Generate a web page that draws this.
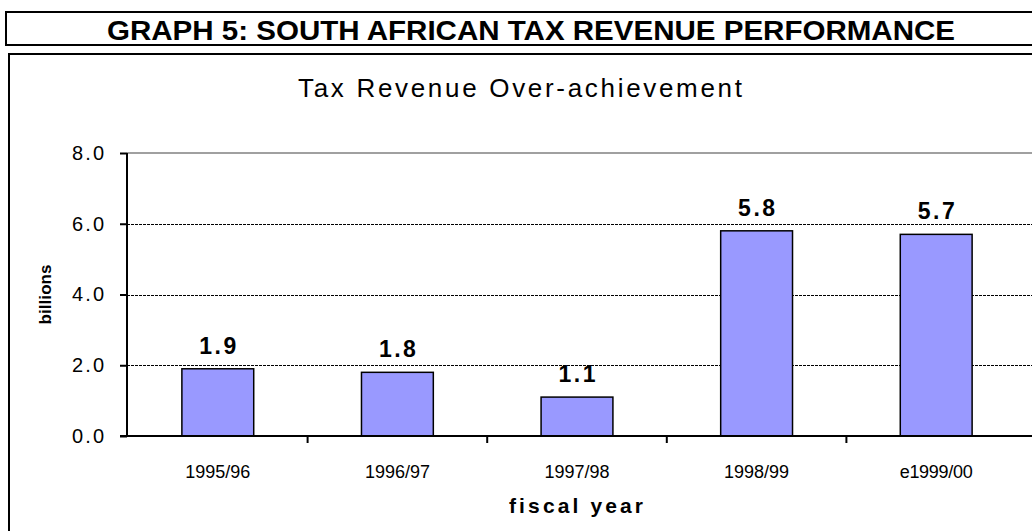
<!DOCTYPE html>
<html>
<head>
<meta charset="utf-8">
<script src="https://cdn.jsdelivr.net/npm/d3@7"></script>
<style>
  body { margin: 0; background: #fff; }
  svg { display: block; font-family: "Liberation Sans", Arial, sans-serif; }
</style>
</head>
<body>
<div id="chart"></div>
<script>
const categories = ["1995/96", "1996/97", "1997/98", "1998/99", "e1999/00"];
const values = [1.9, 1.8, 1.1, 5.8, 5.7];
const yTicks = [0, 2, 4, 6, 8];

const width = 1032,
    height = 531;
const margin = { top: 153, right: 7, bottom: 95, left: 127 };

const svg = d3
    .select("#chart")
    .append("svg")
    .attr("width", width)
    .attr("height", height);

svg.append("rect").attr("width", width).attr("height", height).attr("fill", "#fff");

// header box
svg.append("rect")
    .attr("x", 6)
    .attr("y", 12)
    .attr("width", width + 10)
    .attr("height", 33)
    .attr("fill", "none")
    .attr("stroke", "#000")
    .attr("stroke-width", 2);

svg.append("text")
    .attr("x", 531)
    .attr("y", 40)
    .attr("text-anchor", "middle")
    .attr("textLength", 848)
    .attr("lengthAdjust", "spacingAndGlyphs")
    .style("font-size", "27px")
    .style("font-weight", "bold")
    .text("GRAPH 5: SOUTH AFRICAN TAX REVENUE PERFORMANCE");

// chart box
svg.append("rect")
    .attr("x", 9)
    .attr("y", 54)
    .attr("width", width + 10)
    .attr("height", height)
    .attr("fill", "none")
    .attr("stroke", "#000")
    .attr("stroke-width", 2);

svg.append("text")
    .attr("x", 520)
    .attr("y", 97)
    .attr("text-anchor", "middle")
    .attr("textLength", 444)
    .attr("lengthAdjust", "spacing")
    .style("font-size", "26px")
    .text("Tax Revenue Over-achievement");

const xScale = d3
    .scaleBand()
    .domain(categories)
    .range([margin.left + 1, 1026])
    .paddingInner(0.6)
    .paddingOuter(0.3);

const yScale = d3
    .scaleLinear()
    .domain([0, 8])
    .range([height - margin.bottom, margin.top]);

// top border of plot at 8.0
svg.append("line")
    .attr("x1", margin.left)
    .attr("x2", width)
    .attr("y1", yScale(8))
    .attr("y2", yScale(8))
    .attr("stroke", "#808080")
    .attr("stroke-width", 1.5);

// dashed gridlines
svg.append("g")
    .selectAll("line")
    .data(yTicks.filter((d) => d > 0 && d < 8))
    .join("line")
    .attr("x1", margin.left)
    .attr("x2", width)
    .attr("y1", (d) => Math.round(yScale(d)) + 0.5)
    .attr("y2", (d) => Math.round(yScale(d)) + 0.5)
    .attr("stroke", "#000")
    .attr("stroke-width", 1)
    .attr("stroke-dasharray", "3,1");

// bars
svg.append("g")
    .selectAll("rect")
    .data(values)
    .join("rect")
    .attr("x", (d, i) => xScale(categories[i]))
    .attr("y", (d) => yScale(d))
    .attr("width", xScale.bandwidth())
    .attr("height", (d) => yScale(0) - yScale(d))
    .attr("fill", "#9999ff")
    .attr("stroke", "#000")
    .attr("stroke-width", 1.5);

svg.append("g")
    .selectAll("text")
    .data(values)
    .join("text")
    .attr("x", (d, i) => xScale(categories[i]) + xScale.bandwidth() / 2)
    .attr("y", (d) => yScale(d) - 15)
    .attr("text-anchor", "middle")
    .attr("textLength", 37)
    .attr("lengthAdjust", "spacing")
    .style("font-size", "23px")
    .style("font-weight", "bold")
    .text((d) => d.toFixed(1));

// y axis
const yAxis = svg
    .append("g")
    .attr("transform", `translate(${margin.left}, 0)`)
    .call(
        d3
            .axisLeft(yScale)
            .tickValues(yTicks)
            .tickSize(7)
            .tickPadding(16)
            .tickFormat(d3.format(".1f"))
    );
yAxis.select(".domain").attr("stroke-width", 2).attr("d", `M0,${yScale(0)}V${yScale(8)}`);
yAxis.selectAll(".tick line").attr("stroke-width", 2);
yAxis.selectAll("text")
    .attr("textLength", 32)
    .attr("lengthAdjust", "spacing")
    .style("font-size", "20px")
    .style("font-family", "Liberation Sans, Arial, sans-serif")
    .attr("fill", "#000");

// x axis
const step = xScale.step();
const boundaries = categories.map((c) => xScale(c) - (step - xScale.bandwidth()) / 2);
const xAxis = svg.append("g").attr("transform", `translate(0, ${yScale(0)})`);
xAxis.append("line")
    .attr("x1", margin.left - 7)
    .attr("x2", width)
    .attr("stroke", "#000")
    .attr("stroke-width", 2);
xAxis.selectAll(".xt")
    .data(boundaries.slice(1))
    .join("line")
    .attr("class", "xt")
    .attr("x1", (d) => d)
    .attr("x2", (d) => d)
    .attr("y2", 7)
    .attr("stroke", "#000")
    .attr("stroke-width", 2);
xAxis.selectAll(".xl")
    .data(categories)
    .join("text")
    .attr("class", "xl")
    .attr("x", (d) => xScale(d) + xScale.bandwidth() / 2)
    .attr("y", 42)
    .attr("text-anchor", "middle")
    .attr("textLength", (d) => (d.length === 8 ? 73 : 65))
    .attr("lengthAdjust", "spacing")
    .style("font-size", "18px")
    .text((d) => d);

svg.append("text")
    .attr("x", (margin.left + 1025) / 2)
    .attr("y", 513)
    .attr("text-anchor", "middle")
    .attr("textLength", 134)
    .attr("lengthAdjust", "spacing")
    .style("font-size", "21px")
    .style("font-weight", "bold")
    .text("fiscal year");

svg.append("text")
    .attr("transform", `translate(51, ${yScale(4)}) rotate(-90)`)
    .attr("text-anchor", "middle")
    .attr("textLength", 60)
    .attr("lengthAdjust", "spacing")
    .style("font-size", "17px")
    .style("font-weight", "bold")
    .text("billions");
</script>
</body>
</html>
